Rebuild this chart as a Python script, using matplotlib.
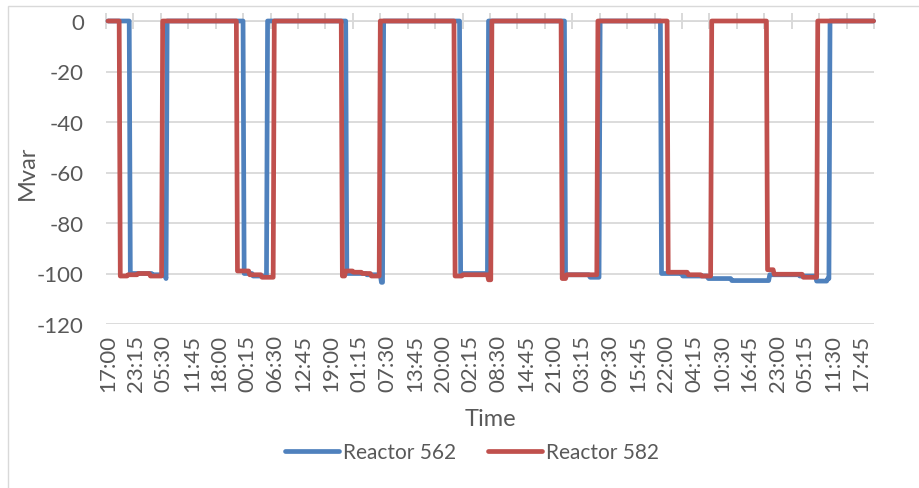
import numpy as np
import pandas as pd
import matplotlib
matplotlib.use('Agg')
import matplotlib.pyplot as plt
from matplotlib.patches import Rectangle
from matplotlib.lines import Line2D

plt.rcParams['font.family'] = ['Lato', 'DejaVu Sans']
plt.rcParams['axes.unicode_minus'] = False

# 15 minute samples
start = '2019-01-01 17:00'
n_points = 687
label_every = 25

# change points: value is held until the next change point
r562_times = ['2019-01-01 17:00', '2019-01-01 22:00', '2019-01-02 03:00', '2019-01-02 06:00', '2019-01-02 06:15',
              '2019-01-02 23:30', '2019-01-03 01:30', '2019-01-03 04:45',
              '2019-01-03 22:30', '2019-01-04 03:00', '2019-01-04 06:15', '2019-01-04 06:45',
              '2019-01-05 00:00', '2019-01-05 06:15',
              '2019-01-05 23:30', '2019-01-06 05:00', '2019-01-06 07:15',
              '2019-01-06 21:00', '2019-01-07 01:45', '2019-01-07 07:30', '2019-01-07 12:45',
              '2019-01-07 21:15', '2019-01-08 04:00', '2019-01-08 07:45', '2019-01-08 10:15', '2019-01-08 10:45']
r562_vals = [0, -100, -100.5, -102, 0,
             -100, -101, 0,
             -100, -100.5, -103.5, 0,
             -100, 0,
             -100.5, -101.5, 0,
             -100, -101, -102, -102.8,
             -100.5, -101, -103, -102, 0]

r582_times = ['2019-01-01 17:00', '2019-01-01 19:45', '2019-01-01 21:30', '2019-01-01 23:45', '2019-01-02 02:30', '2019-01-02 05:15',
              '2019-01-02 22:00', '2019-01-03 00:45', '2019-01-03 03:30', '2019-01-03 06:15',
              '2019-01-03 21:30', '2019-01-03 22:15', '2019-01-04 00:00', '2019-01-04 02:00', '2019-01-04 04:00', '2019-01-04 06:00',
              '2019-01-04 22:45', '2019-01-05 00:30', '2019-01-05 06:15', '2019-01-05 07:00',
              '2019-01-05 22:45', '2019-01-05 23:45', '2019-01-06 06:45',
              '2019-01-06 22:30', '2019-01-07 03:00', '2019-01-07 06:00', '2019-01-07 08:15',
              '2019-01-07 20:45', '2019-01-07 22:15', '2019-01-08 04:45', '2019-01-08 08:00']
r582_vals = [0, -101, -100.5, -100, -101, 0,
             -99, -100.5, -101.5, 0,
             -101, -99, -99.5, -100, -101, 0,
             -101, -100.5, -102.5, 0,
             -102, -100.5, 0,
             -99.5, -100.5, -101, 0,
             -98.5, -100.3, -101.5, 0]

times = pd.date_range(start, periods=n_points, freq='15min')


def step_series(t, v):
    s = pd.Series(np.nan, index=times)
    s[pd.to_datetime(t)] = v
    return s.ffill()


r562 = step_series(r562_times, r562_vals)
r582 = step_series(r582_times, r582_vals)
x = np.arange(n_points)

blue = '#4F81BD'
red = '#C0504D'
grid = '#D9D9D9'
txt = '#595959'

fig = plt.figure(figsize=(9.19, 4.89), dpi=100)
ax = fig.add_axes([106/919, 1-325/489, 768/919, 303/489])

ax.plot(x, r562.values, color=blue, lw=3.4, solid_capstyle='round', solid_joinstyle='round', clip_on=False, zorder=3)
ax.plot(x, r582.values, color=red, lw=3.4, solid_capstyle='round', solid_joinstyle='round', clip_on=False, zorder=4)

xlo, xhi = -1.8, 686.4
ax.set_xlim(xlo, xhi)
ax.set_ylim(-120, 0)
ax.set_yticks(range(-120, 1, 20))
ax.yaxis.grid(True, color=grid, lw=1.3)
ax.set_axisbelow(True)

for s in ['left', 'right', 'bottom']:
    ax.spines[s].set_visible(False)
ax.spines['top'].set_color(grid)
ax.spines['top'].set_linewidth(1.3)

lab_idx = x[::label_every]
ax.set_xticks(lab_idx)
ax.set_xticklabels([t.strftime('%H:%M') for t in times[::label_every]], rotation=90)
ax.set_xticks(np.linspace(xlo, xhi, 29), minor=True)
ax.tick_params(axis='x', which='major', bottom=True, top=False, length=0, pad=7, labelsize=16, labelcolor=txt)
ax.tick_params(axis='x', which='minor', bottom=False, top=True, direction='inout', length=11.5, width=1.4, color=grid)
ax.tick_params(axis='y', length=0, pad=16, labelsize=16, labelcolor=txt)

fig.text(27/919, 1-173/489, 'Mvar', rotation=90, ha='center', va='center', fontsize=17, color=txt)
fig.text(490/919, 1-420/489, 'Time', ha='center', va='center', fontsize=17, color=txt)

handles = [Line2D([], [], color=blue, lw=3.4, solid_capstyle='round'),
           Line2D([], [], color=red, lw=3.4, solid_capstyle='round')]
fig.legend(handles, ['Reactor 562', 'Reactor 582'], loc='center', bbox_to_anchor=(472/919, 1-453/489),
           ncol=2, frameon=False, fontsize=15, labelcolor=txt, handlelength=2.6, handletextpad=0.2,
           columnspacing=1.5)

fig.add_artist(Rectangle((8/919, -0.1), 2, 1.1-7/489, transform=fig.transFigure, fill=False, ec=grid, lw=1))

fig.savefig('out.png', dpi=100)
